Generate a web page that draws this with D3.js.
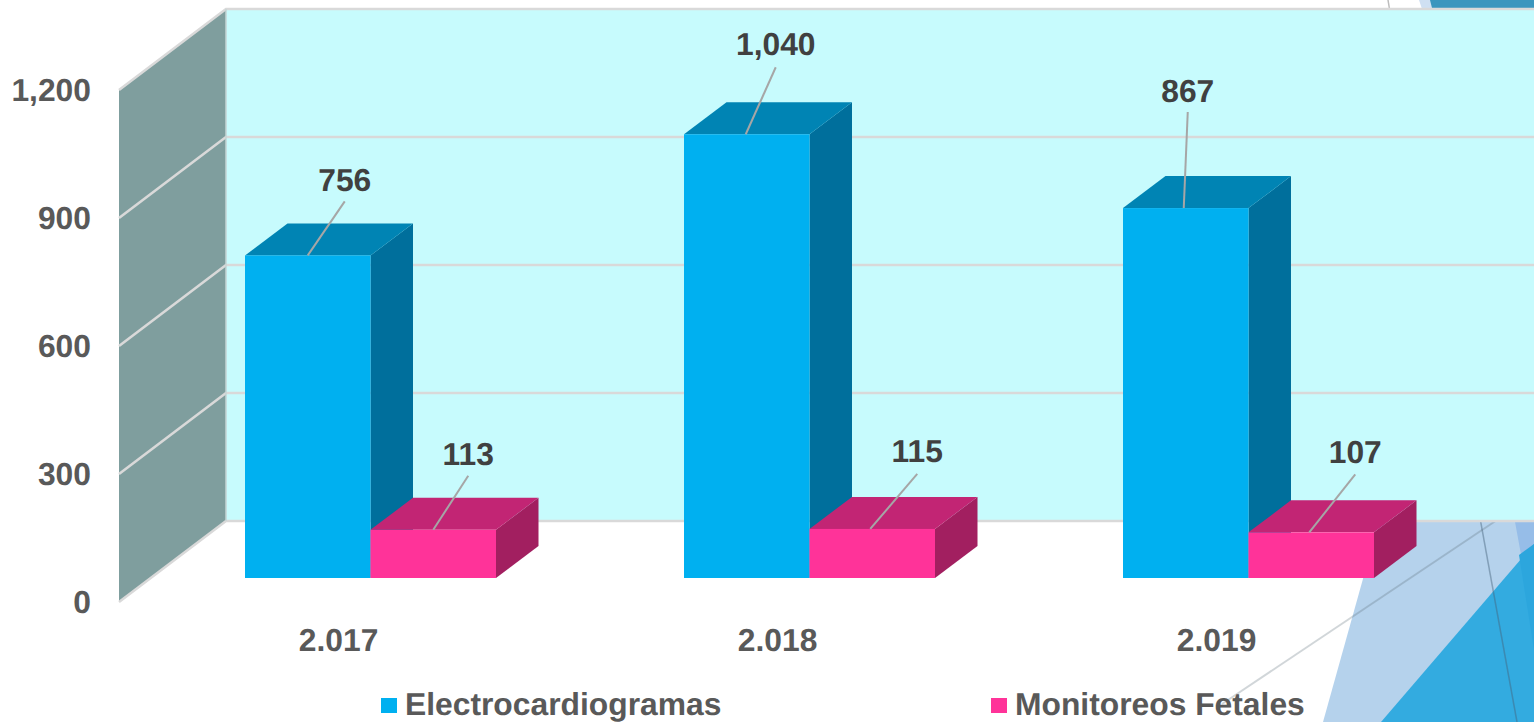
<!DOCTYPE html>
<html><head><meta charset="utf-8">
<script src="https://cdn.jsdelivr.net/npm/d3@7"></script>
<style>html,body{margin:0;padding:0;background:#fff;overflow:hidden}svg{display:block}
text{font-family:"Liberation Sans",Arial,sans-serif;font-weight:700;text-rendering:geometricPrecision}</style></head>
<body><svg id="c" width="1534" height="722"></svg>
<script>
const categories = ["2.017","2.018","2.019"];
const seriesNames = ["Electrocardiogramas","Monitoreos Fetales"];
const electro = [756,1040,867];
const fetal = [113,115,107];
const valueTicks = [0,300,600,900,1200];
// leader layout: [anchor shift, dx, dy, label gap]
const electroLeaders = [[0,37,-54,-10.5],[-1,30,-67,-12],[-2,4,-96,-10]];
const fetalLeaders = [[0,35,-54,-11],[-2,47,-55,-12],[-2,46,-58,-11]];

const W=1534,H=722,FS=31.8;
const svg=d3.select("#c");
const y=d3.scaleLinear().domain([0,1200]).range([578,66]);
const x0=d3.scaleBand().domain(categories).range([151,1468]).paddingInner(188/439).paddingOuter(94/439);
const x1=d3.scaleBand().domain(seriesNames).range([0,x0.bandwidth()]);
const wall={dx:107,dy:-81,front:24,xl:119};
const bar={dx:42.5,dy:-32};
const fmt=d3.format(",");
const pts=a=>a.map(p=>p.join(",")).join(" ");

// backdrop decoration
const deco=svg.append("g");
deco.append("polygon").attr("points",pts([[1323,722],[1385,500],[1534,500],[1534,722]])).attr("fill","#B5D2EC");
deco.append("polygon").attr("points",pts([[1511,500],[1534,500],[1534,640],[1522,560]])).attr("fill","#96BDE8");
deco.append("polygon").attr("points",pts([[1381,722],[1534,544],[1534,722]])).attr("fill","#33ABE0");
deco.append("polygon").attr("points",pts([[1519,555],[1534,544],[1534,650]])).attr("fill","#2CA6DD");
deco.append("polygon").attr("points",pts([[1419,0],[1534,0],[1534,12],[1423,12]])).attr("fill","#CFE0F2");
deco.append("polygon").attr("points",pts([[1430,0],[1534,0],[1534,12],[1433,12]])).attr("fill","#3B96BE");
deco.append("line").attr("x1",1388).attr("y1",0).attr("x2",1390).attr("y2",12).attr("stroke","#bdbdbd").attr("stroke-width",1.5);
deco.append("line").attr("x1",1222).attr("y1",704).attr("x2",1500).attr("y2",518).attr("stroke","#5b6b78").attr("stroke-opacity",.28).attr("stroke-width",2);
deco.append("line").attr("x1",1480).attr("y1",518).attr("x2",1517).attr("y2",722).attr("stroke","#44617a").attr("stroke-opacity",.45).attr("stroke-width",1.5);

// walls
const g=svg.append("g");
const backLeft=119+wall.dx, yb=v=>y(v)+wall.front+wall.dy, yf=v=>y(v)+wall.front;
g.append("polygon").attr("points",pts([[wall.xl,yf(1200)],[backLeft,yb(1200)],[backLeft,yb(0)],[wall.xl,yf(0)]])).attr("fill","#7F9E9E");
g.append("rect").attr("x",backLeft).attr("y",yb(1200)).attr("width",W-backLeft).attr("height",yb(0)-yb(1200)).attr("fill","#C7FBFD");
g.selectAll("polyline.grid").data(valueTicks).join("polyline").attr("class","grid")
  .attr("points",d=>pts([[wall.xl,yf(d)],[backLeft,yb(d)],[W,yb(d)]]))
  .attr("fill","none").attr("stroke","#D9D9D9").attr("stroke-width",2.6);
g.append("line").attr("x1",backLeft).attr("x2",backLeft).attr("y1",yb(1200)).attr("y2",yb(0)).attr("stroke","#C4D4D4").attr("stroke-width",1.5);

// axis labels
svg.selectAll("text.yt").data(valueTicks).join("text").attr("class","yt")
  .attr("x",91).attr("y",d=>yf(d)+11).attr("text-anchor","end").attr("font-size",FS).attr("fill","#595959").text(fmt);
svg.selectAll("text.xt").data(categories).join("text").attr("class","xt")
  .attr("x",d=>x0(d)+x0.bandwidth()*0.373).attr("y",651).attr("text-anchor","middle").attr("font-size",FS).attr("fill","#595959").text(d=>d);

// bars
const colors=[{f:"#00B0F0",t:"#0084B4",s:"#006F9C"},{f:"#FF3399",t:"#C22574",s:"#A21F60"}];
[electro,fetal].forEach((vals,si)=>{
  const c=colors[si], name=seriesNames[si];
  const sg=svg.append("g");
  categories.forEach((cat,i)=>{
    const l=x0(cat)+x1(name), r=l+x1.bandwidth(), t=y(vals[i]), b=y(0);
    sg.append("polygon").attr("points",pts([[r,t],[r+bar.dx,t+bar.dy],[r+bar.dx,b+bar.dy],[r,b]])).attr("fill",c.s);
    sg.append("polygon").attr("points",pts([[l,t],[l+bar.dx,t+bar.dy],[r+bar.dx,t+bar.dy],[r,t]])).attr("fill",c.t);
    sg.append("rect").attr("x",l).attr("y",t).attr("width",r-l).attr("height",b-t).attr("fill",c.f);
  });
});
// leaders + value labels drawn on top
[electro,fetal].forEach((vals,si)=>{
  const name=seriesNames[si], leaders=si?fetalLeaders:electroLeaders;
  categories.forEach((cat,i)=>{
    const o=leaders[i], ax=x0(cat)+x1(name)+x1.bandwidth()/2+o[0], ay=y(vals[i]);
    svg.append("line").attr("x1",ax).attr("y1",ay).attr("x2",ax+o[1]).attr("y2",ay+o[2]).attr("stroke","#A6A6A6").attr("stroke-width",2);
    svg.append("text").attr("x",ax+o[1]).attr("y",ay+o[2]+o[3]).attr("text-anchor","middle").attr("font-size",FS).attr("fill","#404040").text(fmt(vals[i]));
  });
});

// legend
const legendX=d3.scaleOrdinal().domain(seriesNames).range([381,991]);
const lg=svg.selectAll("g.lg").data(seriesNames).join("g").attr("class","lg").attr("transform",d=>`translate(${legendX(d)},0)`);
lg.append("rect").attr("y",698).attr("width",16).attr("height",15).attr("fill",(d,i)=>colors[i].f);
lg.append("text").attr("x",24).attr("y",715).attr("font-size",FS).attr("fill","#595959").text(d=>d);
</script></body></html>
